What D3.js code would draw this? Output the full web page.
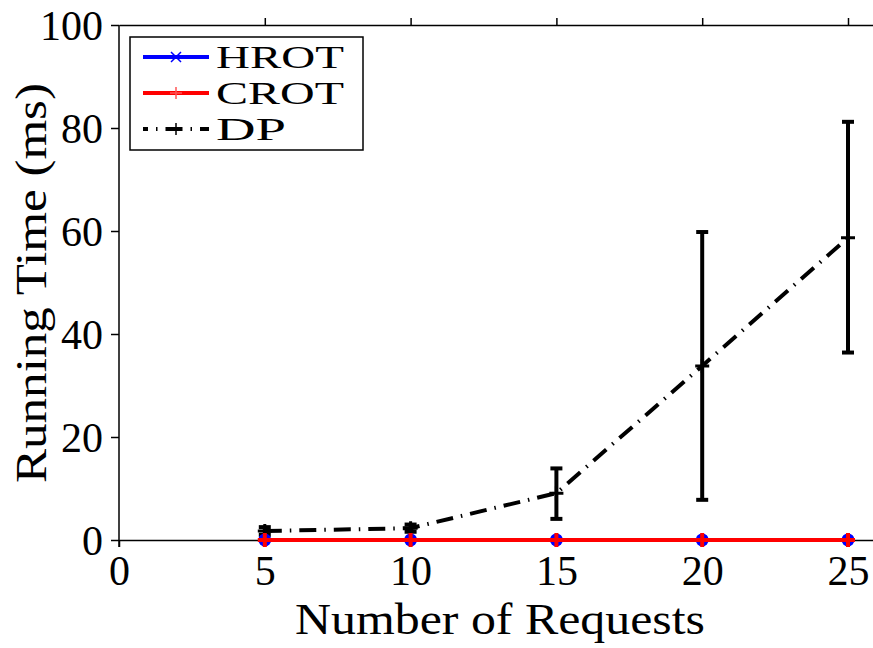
<!DOCTYPE html>
<html>
<head>
<meta charset="utf-8">
<script src="https://cdn.jsdelivr.net/npm/d3@7"></script>
<style>
  html, body { margin: 0; padding: 0; background: #fff; }
  svg { display: block; }
  text { font-family: "Liberation Serif", "Times New Roman", serif; fill: #000; }
</style>
</head>
<body>
<svg id="chart" width="873" height="648"></svg>
<script>
// Number of requests on the x axis
const requests = [5, 10, 15, 20, 25];
// Mean running time (ms) per algorithm
const hrot = [0.02, 0.02, 0.02, 0.02, 0.02];
const crot = [0.02, 0.02, 0.02, 0.02, 0.02];
const dp = [1.75, 2.3, 9.1, 33.8, 58.7];
// DP error bar limits (ms)
const dpLow = [1.0, 1.6, 4.1, 7.8, 36.4];
const dpHigh = [2.5, 3.0, 13.9, 59.8, 81.2];
// Axis ticks
const xTicks = [0, 5, 10, 15, 20, 25];
const yTicks = [0, 20, 40, 60, 80, 100];
const seriesNames = ["HROT", "CROT", "DP"];

const svg = d3.select("#chart");
const x = d3.scaleLinear().domain([0, 26]).range([119, 119 + 26 * 29.16]);
const y = d3.scaleLinear().domain([0, 100]).range([540, 25]);

const fontTick = 42;

// Axes
const gx = svg.append("g").attr("transform", `translate(0,${y(0)})`)
  .call(d3.axisBottom(x).tickValues(xTicks).tickSize(7).tickSizeOuter(0).tickPadding(4).tickFormat(d3.format("d")));
const gxTop = svg.append("g").attr("transform", `translate(0,${y(100)})`)
  .call(d3.axisTop(x).tickValues(xTicks.slice(1)).tickSize(7).tickSizeOuter(0).tickFormat(""));
const gy = svg.append("g").attr("transform", `translate(${x(0)},0)`)
  .call(d3.axisLeft(y).tickValues(yTicks).tickSize(8).tickSizeOuter(0).tickPadding(8).tickFormat(d3.format("d")));

[gx, gxTop, gy].forEach(g => {
  g.select(".domain").attr("stroke", "#000").attr("stroke-width", 1.5);
  g.selectAll(".tick line").attr("stroke", "#000").attr("stroke-width", 1.5);
  g.selectAll(".tick text").attr("font-size", fontTick)
    .style("font-family", '"Liberation Serif", serif').attr("fill", "#000");
});
gx.selectAll(".tick text").attr("dy", "0.8em");
gy.selectAll(".tick text").attr("dy", "0.34em");
// extend left axis below the x axis
gy.select(".domain").attr("d", `M0,${y(100)}V${y(0) + 7}`);

// Axis titles
svg.append("text")
  .attr("x", 500).attr("y", 634)
  .attr("text-anchor", "middle")
  .attr("font-size", 44)
  .attr("textLength", 410).attr("lengthAdjust", "spacingAndGlyphs")
  .text("Number of Requests");
svg.append("text")
  .attr("transform", `translate(46,283) rotate(-90)`)
  .attr("text-anchor", "middle")
  .attr("font-size", 44)
  .attr("textLength", 400).attr("lengthAdjust", "spacingAndGlyphs")
  .text("Running Time (ms)");

const line = d3.line().x(d => x(d[0])).y(d => y(d[1]));
const plot = svg.append("g");
const dpDash = "17 8 1.5 8";

// DP series: dash-dot line, error bars, plus markers
const dpPts = requests.map((r, i) => [r, dp[i]]);
plot.append("path").datum(dpPts).attr("d", line)
  .attr("fill", "none").attr("stroke", "#000").attr("stroke-width", 4)
  .attr("stroke-dasharray", dpDash);
requests.forEach((r, i) => {
  const cx = x(r);
  plot.append("line").attr("x1", cx).attr("x2", cx).attr("y1", y(dpLow[i])).attr("y2", y(dpHigh[i]))
    .attr("stroke", "#000").attr("stroke-width", 4);
  [dpLow[i], dpHigh[i]].forEach(v => {
    plot.append("line").attr("x1", cx - 6).attr("x2", cx + 6).attr("y1", y(v)).attr("y2", y(v))
      .attr("stroke", "#000").attr("stroke-width", 4);
  });
  plot.append("path").attr("d", `M${cx - 7},${y(dp[i])}H${cx + 7}M${cx},${y(dp[i]) - 7}V${y(dp[i]) + 7}`)
    .attr("stroke", "#000").attr("stroke-width", 3);
});

// HROT (blue, x markers) and CROT (red, + markers)
const hPts = requests.map((r, i) => [r, hrot[i]]);
const cPts = requests.map((r, i) => [r, crot[i]]);
plot.append("path").datum(hPts).attr("d", line)
  .attr("fill", "none").attr("stroke", "#0000ff").attr("stroke-width", 4);
plot.append("path").datum(cPts).attr("d", line)
  .attr("fill", "none").attr("stroke", "#ff0000").attr("stroke-width", 4);
hPts.forEach(d => {
  const cx = x(d[0]), cy = y(d[1]);
  plot.append("circle").attr("cx", cx).attr("cy", cy).attr("r", 6.5).attr("fill", "#0000ff");
});
cPts.forEach(d => {
  const cx = x(d[0]), cy = y(d[1]);
  plot.append("path").attr("d", `M${cx - 7},${cy}H${cx + 7}M${cx},${cy - 7}V${cy + 7}`)
    .attr("stroke", "#ff0000").attr("stroke-width", 4);
});

// Legend
const lg = svg.append("g");
lg.append("rect").attr("x", 130).attr("y", 37).attr("width", 233).attr("height", 113)
  .attr("fill", "#fff").attr("stroke", "#000").attr("stroke-width", 1.5);
const rowY = [57, 93, 129];
const styles = [
  { color: "#0000ff", dash: null },
  { color: "#ff0000", dash: null },
  { color: "#000", dash: dpDash }
];
const textWidths = [128, 128, 70];
seriesNames.forEach((name, i) => {
  const yy = rowY[i];
  lg.append("line").attr("x1", 143).attr("x2", 209).attr("y1", yy).attr("y2", yy)
    .attr("stroke", styles[i].color).attr("stroke-width", 4)
    .attr("stroke-dasharray", styles[i].dash)
    .attr("stroke-dashoffset", styles[i].dash ? 12 : null);
  const mx = 176;
  if (i === 0) {
    lg.append("path").attr("d", `M${mx - 5},${yy - 5}L${mx + 5},${yy + 5}M${mx - 5},${yy + 5}L${mx + 5},${yy - 5}`)
      .attr("stroke", "#0000ff").attr("stroke-width", 1.5);
  } else {
    lg.append("path").attr("d", `M${mx - 6},${yy}H${mx + 6}M${mx},${yy - 6}V${yy + 6}`)
      .attr("stroke", i === 1 ? "#ff5555" : "#000").attr("stroke-width", 1.5);
  }
  lg.append("text").attr("x", 216).attr("y", yy + 11).attr("font-size", 31)
    .attr("textLength", textWidths[i]).attr("lengthAdjust", "spacingAndGlyphs")
    .text(name);
});
</script>
</body>
</html>
